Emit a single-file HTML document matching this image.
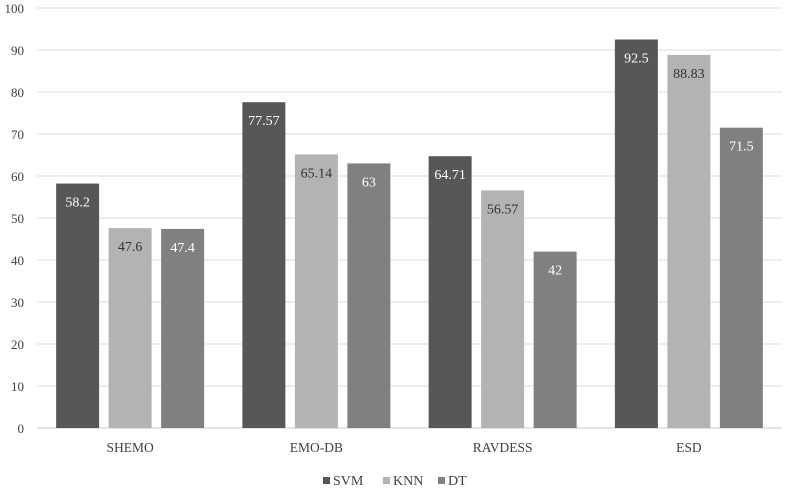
<!DOCTYPE html>
<html><head><meta charset="utf-8"><style>
body{margin:0;background:#fff;}
svg{display:block;font-family:"Liberation Serif",serif;}
</style></head><body>
<svg id="chart" width="785" height="489"></svg>
<script>
const categories=["SHEMO","EMO-DB","RAVDESS","ESD"];
const svmValues=[58.2,77.57,64.71,92.5];
const knnValues=[47.6,65.14,56.57,88.83];
const dtValues=[47.4,63,42,71.5];
const yTicks=[0,10,20,30,40,50,60,70,80,90,100];
const seriesNames=["SVM","KNN","DT"];
const NS="http://www.w3.org/2000/svg";
const svg=document.getElementById('chart');
const x0=37,x1=782,y0=428,yTop=8;
const catW=(x1-x0)/categories.length;
const y=v=>y0-(v/100)*(y0-yTop);
const bw=43,gap=9.5;
function el(t,a,txt){const e=document.createElementNS(NS,t);for(const k in a)e.setAttribute(k,a[k]);if(txt!==undefined)e.textContent=txt;svg.appendChild(e);return e;}
yTicks.forEach(t=>{
  const g=el('line',{x1:x0,x2:x1,y1:y(t),y2:y(t),stroke:t===0?'#c8c8c8':'#dcdcdc','stroke-width':1});
  
  
  const l=el('text',{x:24,y:y(t)+5,'text-anchor':'end','font-size':13,fill:'#404040'},String(t));
  
  
});
const series=[svmValues,knnValues,dtValues];
const colors=["#575757","#b3b3b3","#808080"];
const textCol=["#fff","#333","#fff"];
categories.forEach((c,i)=>{
  const cx=x0+catW*(i+0.5);
  const start=cx-(3*bw+2*gap)/2;
  series.forEach((s,j)=>{
    const bx=start+j*(bw+gap);
    const r=el('rect',{x:bx,y:y(s[i]),width:bw,height:y0-y(s[i]),fill:colors[j]});
    
    
    const t=el('text',{x:bx+bw/2,y:y(s[i])+23,'text-anchor':'middle','font-size':14,fill:textCol[j]},String(s[i]));
    
    
  });
  const cl=el('text',{x:cx,y:452,'text-anchor':'middle','font-size':13.5,fill:'#404040'},c);
  
  
});
const legendX=[323,383,438];
seriesNames.forEach((n,j)=>{
  const lx=legendX[j];
  const sw=el('rect',{x:lx,y:477,width:7,height:7,fill:colors[j]});
  
  
  const t=el('text',{x:lx+10,y:485,'font-size':14,fill:'#404040'},n);
  
  
});
</script>
</body></html>
